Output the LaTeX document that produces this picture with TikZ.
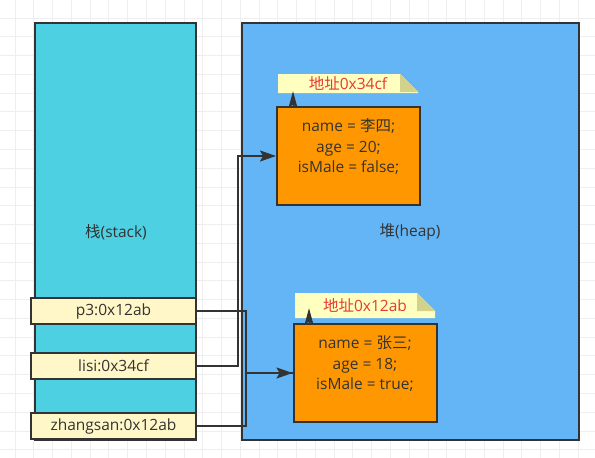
\documentclass[tikz,border=0pt]{standalone}
\usepackage{fontspec}
\setmainfont{Open Sans}
\newfontfamily\cjk{Noto Sans CJK SC}
\usetikzlibrary{arrows.meta}
\definecolor{stackc}{HTML}{4DD0E1}
\definecolor{heapc}{HTML}{64B5F6}
\definecolor{objc}{HTML}{FF9800}
\definecolor{itemc}{HTML}{FFF7C8}
\definecolor{notec}{HTML}{FFFFC0}
\definecolor{foldc}{HTML}{D2D28C}
\definecolor{linec}{HTML}{333333}
\definecolor{txtc}{HTML}{333333}
\definecolor{redc}{HTML}{E53935}
\definecolor{gridc}{HTML}{EEEEEE}
\begin{document}
\begin{tikzpicture}[x=1pt,y=-1pt,
  area/.style={draw=linec,line width=2pt,inner sep=0pt,anchor=north west},
  txt/.style={text=txtc,font=\fontsize{15.5}{20.5}\selectfont,inner sep=0pt,align=center},
  item/.style={draw=linec,line width=2pt,fill=itemc,inner sep=0pt,minimum width=165pt,minimum height=26pt,text=txtc,font=\fontsize{15.5}{18}\selectfont},
  obj/.style={draw=linec,line width=2pt,fill=objc,inner sep=0pt,minimum width=143pt,minimum height=98pt},
  notebox/.style={inner sep=0pt,minimum width=140pt,text=redc,font=\fontsize{15.5}{18}\selectfont,
    path picture={
      \fill[notec] (path picture bounding box.south west) -- (path picture bounding box.north west)
        -- ([xshift=-18pt]path picture bounding box.north east) -- ([yshift=-18pt]path picture bounding box.north east)
        -- (path picture bounding box.south east) -- cycle;
      \fill[foldc] ([xshift=-18pt]path picture bounding box.north east) -- ([xshift=-18pt,yshift=-18pt]path picture bounding box.north east)
        -- ([yshift=-18pt]path picture bounding box.north east) -- cycle;
    }},
  conn/.style={draw=linec,line width=2pt,-{Stealth[length=16pt,width=11pt,inset=3pt]}},
  pin/.style={draw=linec,line width=1pt,-{Stealth[length=15pt,width=8pt,inset=1pt]}},
  plain/.style={draw=linec,line width=2pt}
]
\useasboundingbox (0,0) rectangle (595,458);
\fill[white] (0,0) rectangle (595,458);
% grid
\foreach \i in {0,...,31} {\draw[gridc,line width=0.8pt] ({15+18.77*\i},0) -- ({15+18.77*\i},458);}
\foreach \j in {0,...,23} {\draw[gridc,line width=0.8pt] (0,{18+18.77*\j}) -- (595,{18+18.77*\j});}

% areas
\node[area,fill=stackc,minimum width=161pt,minimum height=417pt] (stack) at (34,22) {};
\node[area,fill=heapc,minimum width=337pt,minimum height=417pt] (heap) at (241,22) {};
\node[txt] (stacklbl) at (116,232) {{\cjk 栈}(stack)};
\node[txt] (heaplbl) at (410,232) {{\cjk 堆}(heap)};

% stack items
\node[item] (p3) at (113.5,311) {p3:0x12ab};
\node[item] (lisi) at (113.5,365.5) {lisi:0x34cf};
\node[item] (zhangsan) at (113.5,426) {zhangsan:0x12ab};

% objects
\node[obj] (obj1) at (348.5,156) {};
\node[txt] (obj1txt) at (348.5,146.5) {name = {\cjk 李四};\\age = 20;\\isMale = false;};
\node[obj] (obj2) at (365,373) {};
\node[txt] (obj2txt) at (365,364) {name = {\cjk 张三};\\age = 18;\\isMale = true;};

% notes
\node[notebox,minimum height=19pt] (note1) at (348,83.5) {{\cjk 地址}0x34cf};
\node[notebox,minimum height=25pt] (note2) at (365,305.5) {{\cjk 地址}0x12ab};
\draw[pin] ([xshift=-55.5pt]obj1.north) -- ([xshift=-55.5pt,yshift=2pt]obj1.north |- note1.south);
\draw[pin] ([xshift=-56pt]obj2.north) -- ([xshift=-56pt,yshift=10pt]obj2.north |- note2.south);

% connectors
\draw[conn] (lisi.east) -- ++(41,0) |- (obj1.west);
\draw[plain] (zhangsan.east) -- ++(49,0) |- (obj2.west);
\draw[conn] (p3.east) -- ++(49,0) |- (obj2.west);
\end{tikzpicture}
\end{document}
